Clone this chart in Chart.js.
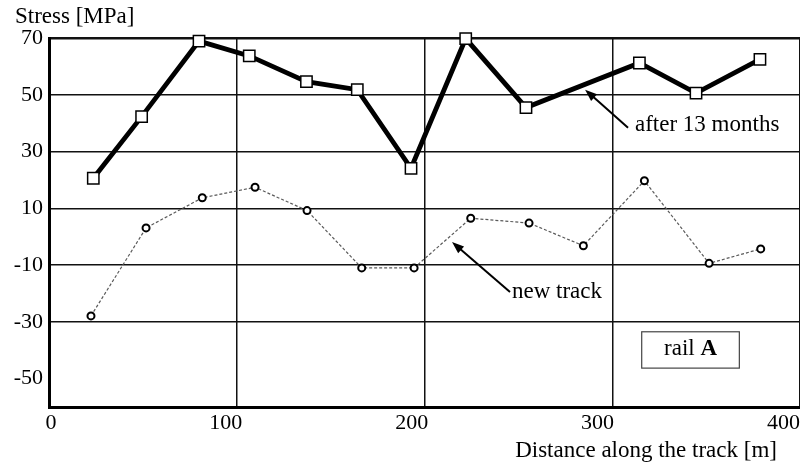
<!DOCTYPE html>
<html>
<head>
<meta charset="utf-8">
<script src="https://cdn.jsdelivr.net/npm/chart.js@4"></script>
<style>
  html, body { margin: 0; padding: 0; background: #fff; }
  #wrap { width: 800px; height: 462px; }
</style>
</head>
<body>
<div id="wrap"><canvas id="chart" width="800" height="462"></canvas></div>
<script>
// Rail stress measured along the track (rail A)
const distAfter13Months = [23.0, 48.1, 77.9, 104.0, 133.7, 160.1, 188.0, 216.4, 247.7, 306.6, 336.0, 369.2];
const stressAfter13Months = [20.6, 42.3, 68.9, 63.7, 54.6, 51.8, 24.1, 69.8, 45.5, 61.2, 50.6, 62.5];

const distNewTrack = [21.8, 50.4, 79.6, 107.0, 134.0, 162.4, 189.6, 219.0, 249.3, 277.5, 309.2, 342.8, 369.6];
const stressNewTrack = [-27.9, 3.1, 13.7, 17.4, 9.2, -11.0, -11.0, 6.5, 4.8, -3.2, 19.7, -9.4, -4.3];

const xTickLabels = [0, 100, 200, 300, 400];
const yTickLabels = [-50, -30, -10, 10, 30, 50, 70];

const SERIF = "'Liberation Serif', 'Times New Roman', serif";

// Callout labels with arrows, placed in data units
const callouts = [
  { text: 'after 13 months', x: 304.3, y: 37.4, from: [300.7, 38.4], to: [278.4, 51.8] },
  { text: 'new track', x: 240.4, y: -21.6, from: [239.4, -19.5], to: [209.3, -1.9] }
];
const railBox = { x0: 307.8, x1: 358.5, y0: -33.5, y1: -46.3, textY: -41.7 };

function toPoints(xs, ys) {
  return xs.map((x, i) => ({ x: x, y: ys[i] }));
}

function drawArrow(ctx, x1, y1, x2, y2) {
  const ang = Math.atan2(y2 - y1, x2 - x1);
  const len = 12, half = 4.5;
  ctx.beginPath();
  ctx.moveTo(x1, y1);
  ctx.lineTo(x2 - Math.cos(ang) * len * 0.8, y2 - Math.sin(ang) * len * 0.8);
  ctx.stroke();
  ctx.beginPath();
  ctx.moveTo(x2, y2);
  ctx.lineTo(x2 - Math.cos(ang) * len + Math.sin(ang) * half, y2 - Math.sin(ang) * len - Math.cos(ang) * half);
  ctx.lineTo(x2 - Math.cos(ang) * len - Math.sin(ang) * half, y2 - Math.sin(ang) * len + Math.cos(ang) * half);
  ctx.closePath();
  ctx.fill();
}

const annotationsPlugin = {
  id: 'annotations',
  afterDraw(chart) {
    const ctx = chart.ctx;
    const xs = chart.scales.x, ys = chart.scales.y;
    const area = chart.chartArea;
    ctx.save();
    ctx.fillStyle = '#000';
    ctx.strokeStyle = '#000';
    ctx.font = '23px ' + SERIF;
    ctx.textBaseline = 'alphabetic';

    // axis titles
    ctx.textAlign = 'left';
    ctx.fillText('Stress [MPa]', area.left - 34, area.top - 15);
    ctx.textAlign = 'right';
    ctx.fillText('Distance along the track [m]', area.right - 23, area.bottom + 50);

    // callouts
    ctx.lineWidth = 2;
    callouts.forEach(c => {
      ctx.textAlign = 'left';
      ctx.fillText(c.text, xs.getPixelForValue(c.x), ys.getPixelForValue(c.y));
      drawArrow(ctx,
        xs.getPixelForValue(c.from[0]), ys.getPixelForValue(c.from[1]),
        xs.getPixelForValue(c.to[0]), ys.getPixelForValue(c.to[1]));
    });

    // rail label box
    const bx0 = xs.getPixelForValue(railBox.x0), bx1 = xs.getPixelForValue(railBox.x1);
    const by0 = ys.getPixelForValue(railBox.y0), by1 = ys.getPixelForValue(railBox.y1);
    ctx.strokeStyle = '#444';
    ctx.lineWidth = 1.2;
    ctx.strokeRect(bx0, by0, bx1 - bx0, by1 - by0);
    const partA = 'rail ', partB = 'A';
    ctx.font = '23px ' + SERIF;
    const wA = ctx.measureText(partA).width;
    ctx.font = 'bold 23px ' + SERIF;
    const wB = ctx.measureText(partB).width;
    const startX = (bx0 + bx1) / 2 - (wA + wB) / 2;
    const ty = ys.getPixelForValue(railBox.textY);
    ctx.textAlign = 'left';
    ctx.font = '23px ' + SERIF;
    ctx.fillText(partA, startX, ty);
    ctx.font = 'bold 23px ' + SERIF;
    ctx.fillText(partB, startX + wA, ty);
    ctx.restore();
  }
};

const tickFont = { family: SERIF, size: 22 };

new Chart(document.getElementById('chart'), {
  type: 'line',
  data: {
    datasets: [
      {
        label: 'after 13 months',
        data: toPoints(distAfter13Months, stressAfter13Months),
        borderColor: '#000',
        borderWidth: 4.8,
        pointStyle: 'rect',
        pointRadius: 8,
        pointBorderWidth: 1.5,
        pointBackgroundColor: '#fff',
        pointBorderColor: '#000',
        tension: 0,
        clip: false
      },
      {
        label: 'new track',
        data: toPoints(distNewTrack, stressNewTrack),
        borderColor: '#5a5a5a',
        borderWidth: 1.2,
        borderDash: [3, 2],
        pointStyle: 'circle',
        pointRadius: 3.5,
        pointBorderWidth: 2,
        pointBackgroundColor: '#fff',
        pointBorderColor: '#000',
        tension: 0,
        clip: false
      }
    ]
  },
  options: {
    responsive: false,
    animation: false,
    devicePixelRatio: 1,
    layout: { autoPadding: false, padding: { top: 38, right: 0, bottom: 0, left: 0 } },
    plugins: {
      legend: { display: false },
      tooltip: { enabled: false },
      title: { display: false }
    },
    scales: {
      x: {
        type: 'linear',
        position: 'bottom',
        min: 0,
        max: 390,
        ticks: { display: false, stepSize: 100 },
        grid: { color: '#111', lineWidth: 1.5, drawTicks: false },
        border: { display: true, color: '#000', width: 3 }
      },
      x2: {
        type: 'linear',
        position: 'bottom',
        min: -4,
        max: 400,
        afterBuildTicks: s => { s.ticks = xTickLabels.map(v => ({ value: v })); },
        afterFit: s => { s.height = 55; s.paddingLeft = 0; s.paddingRight = 0; },
        ticks: { align: 'end', font: tickFont, color: '#000', padding: 3 },
        grid: { display: false, drawTicks: false },
        border: { display: false }
      },
      y: {
        type: 'linear',
        min: -60,
        max: 70,
        afterBuildTicks: s => { s.ticks = yTickLabels.map(v => ({ value: v })); },
        afterFit: s => { s.width = 49; },
        ticks: { font: tickFont, color: '#000', padding: 6 },
        grid: {
          color: c => (c.tick && c.tick.value === -50) ? 'rgba(0,0,0,0)' : '#111',
          lineWidth: c => (c.tick && c.tick.value === 70) ? 2.5 : 1.5,
          drawTicks: false
        },
        border: { display: true, color: '#000', width: 3 }
      }
    }
  },
  plugins: [annotationsPlugin]
});
</script>
</body>
</html>
